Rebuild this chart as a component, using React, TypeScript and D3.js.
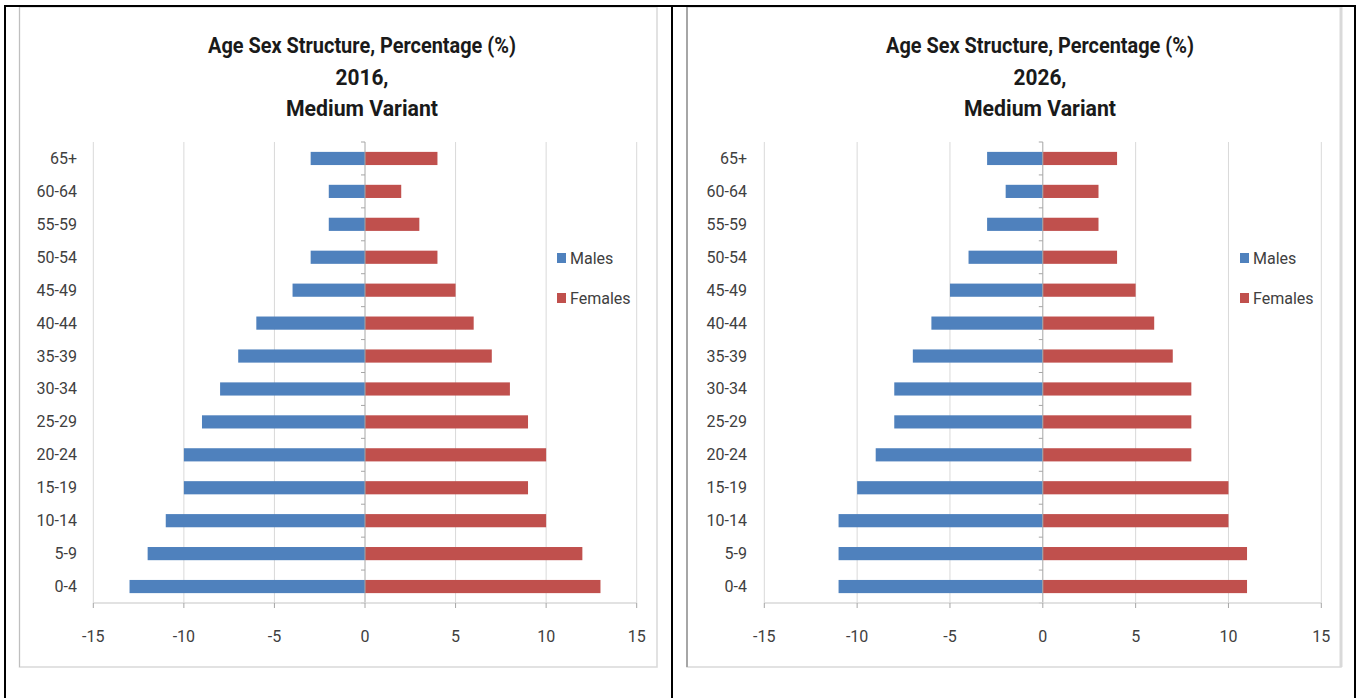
import React from "react";
import * as d3 from "d3";

const categories = ["0-4","5-9","10-14","15-19","20-24","25-29","30-34","35-39","40-44","45-49","50-54","55-59","60-64","65+"];
const males2016 = [-13,-12,-11,-10,-10,-9,-8,-7,-6,-4,-3,-2,-2,-3];
const females2016 = [13,12,10,9,10,9,8,7,6,5,4,3,2,4];
const males2026 = [-11,-11,-11,-10,-9,-8,-8,-7,-6,-5,-4,-3,-2,-3];
const females2026 = [11,11,10,10,8,8,8,7,6,5,4,3,3,4];
const xTicks = [-15,-10,-5,0,5,10,15];
const seriesNames = ["Males","Females"];
const colors = ["#4F81BD","#C0504D"];

const FONT = "Roboto, 'Open Sans', sans-serif";
const TXT = "#404040";

type PanelProps = {
  year: string;
  males: number[];
  females: number[];
  frame: [number, number, number, number];
  xr: [number, number];
  labelX: number;
  titleX: number;
  legendX: number;
};

function Panel({ year, males, females, frame, xr, labelX, titleX, legendX }: PanelProps) {
  const top = 142, bottom = 603;
  const x = d3.scaleLinear().domain([-15, 15]).range(xr);
  const y = d3.scaleBand<string>().domain([...categories].reverse()).range([top, bottom]).paddingInner(0.6).paddingOuter(0.3);
  const step = (bottom - top) / categories.length;
  const boundaries = d3.range(categories.length + 1).map(i => top + i * step);
  const [fx0, fy0, fx1, fy1] = frame;
  return (
    <g>
      <rect x={fx0} y={fy0} width={fx1 - fx0} height={fy1 - fy0} fill="#fff" stroke="#D9D9D9" strokeWidth={1.5} />
      <text x={titleX} y={53} textAnchor="middle" fontFamily={FONT} fontWeight="bold" fontSize={21.5} fill="#1a1a1a" textLength={308} lengthAdjust="spacingAndGlyphs">Age Sex Structure, Percentage (%)</text>
      <text x={titleX} y={85} textAnchor="middle" fontFamily={FONT} fontWeight="bold" fontSize={21.5} fill="#1a1a1a" textLength={53} lengthAdjust="spacingAndGlyphs">{year},</text>
      <text x={titleX} y={116} textAnchor="middle" fontFamily={FONT} fontWeight="bold" fontSize={21.5} fill="#1a1a1a" textLength={152} lengthAdjust="spacingAndGlyphs">Medium Variant</text>
      {xTicks.filter(t => t !== 0).map(t => (
        <line key={"g" + t} x1={x(t)} x2={x(t)} y1={top} y2={bottom} stroke="#D9D9D9" strokeWidth={1} />
      ))}
      {categories.map((c, i) => (
        <rect key={"m" + c} x={x(males[i])} y={y(c)!} width={x(0) - x(males[i])} height={y.bandwidth()} fill={colors[0]} />
      ))}
      {categories.map((c, i) => (
        <rect key={"f" + c} x={x(0)} y={y(c)!} width={x(females[i]) - x(0)} height={y.bandwidth()} fill={colors[1]} />
      ))}
      <line x1={x(0)} x2={x(0)} y1={top} y2={bottom} stroke="#A6A6A6" strokeWidth={1} />
      {boundaries.map((b, i) => (
        <line key={"yt" + i} x1={x(0) - 4} x2={x(0)} y1={b} y2={b} stroke="#A6A6A6" strokeWidth={1} />
      ))}
      <line x1={x(-15)} x2={x(15)} y1={bottom} y2={bottom} stroke="#D9D9D9" strokeWidth={1.5} />
      {xTicks.map(t => (
        <g key={"xt" + t}>
          <line x1={x(t)} x2={x(t)} y1={bottom} y2={bottom + 5} stroke="#A6A6A6" strokeWidth={1} />
          <text x={x(t)} y={642} textAnchor="middle" fontFamily={FONT} fontSize={16} fill={TXT}>{t}</text>
        </g>
      ))}
      {categories.map(c => (
        <text key={"l" + c} x={labelX} y={y(c)! + y.bandwidth() / 2 + 5.5} textAnchor="end" fontFamily={FONT} fontSize={16} fill={TXT}>{c}</text>
      ))}
      {seriesNames.map((s, i) => (
        <g key={s}>
          <rect x={legendX} y={253 + i * 40} width={9} height={10} fill={colors[i]} />
          <text x={legendX + 13} y={264 + i * 40} fontFamily={FONT} fontSize={16} fill={TXT}>{s}</text>
        </g>
      ))}
    </g>
  );
}

export default function App() {
  return (
    <svg width={1357} height={698} style={{ position: "absolute", left: 0, top: 0 }}>
      <rect width={1357} height={698} fill="#fff" />
      <Panel year="2016" males={males2016} females={females2016} frame={[19.5, 7, 657, 667]} xr={[93.3, 636.7]} labelX={77} titleX={362} legendX={557} />
      <Panel year="2026" males={males2026} females={females2026} frame={[687, 7, 1341, 667]} xr={[764.3, 1321.3]} labelX={747} titleX={1040} legendX={1240} />
      <line x1={687} x2={687} y1={7} y2={667} stroke="#A6A6A6" strokeWidth={2} />
      <line x1={19.5} x2={19.5} y1={7} y2={667} stroke="#BFBFBF" strokeWidth={1} />
      <line x1={1341} x2={1341} y1={7} y2={667} stroke="#D9D9D9" strokeWidth={3} />
      <line x1={4} x2={1356} y1={6} y2={6} stroke="#000" strokeWidth={2} />
      <line x1={5} x2={5} y1={5} y2={698} stroke="#000" strokeWidth={2} />
      <line x1={672} x2={672} y1={5} y2={698} stroke="#000" strokeWidth={2} />
      <line x1={1355} x2={1355} y1={5} y2={698} stroke="#000" strokeWidth={2} />
    </svg>
  );
}
